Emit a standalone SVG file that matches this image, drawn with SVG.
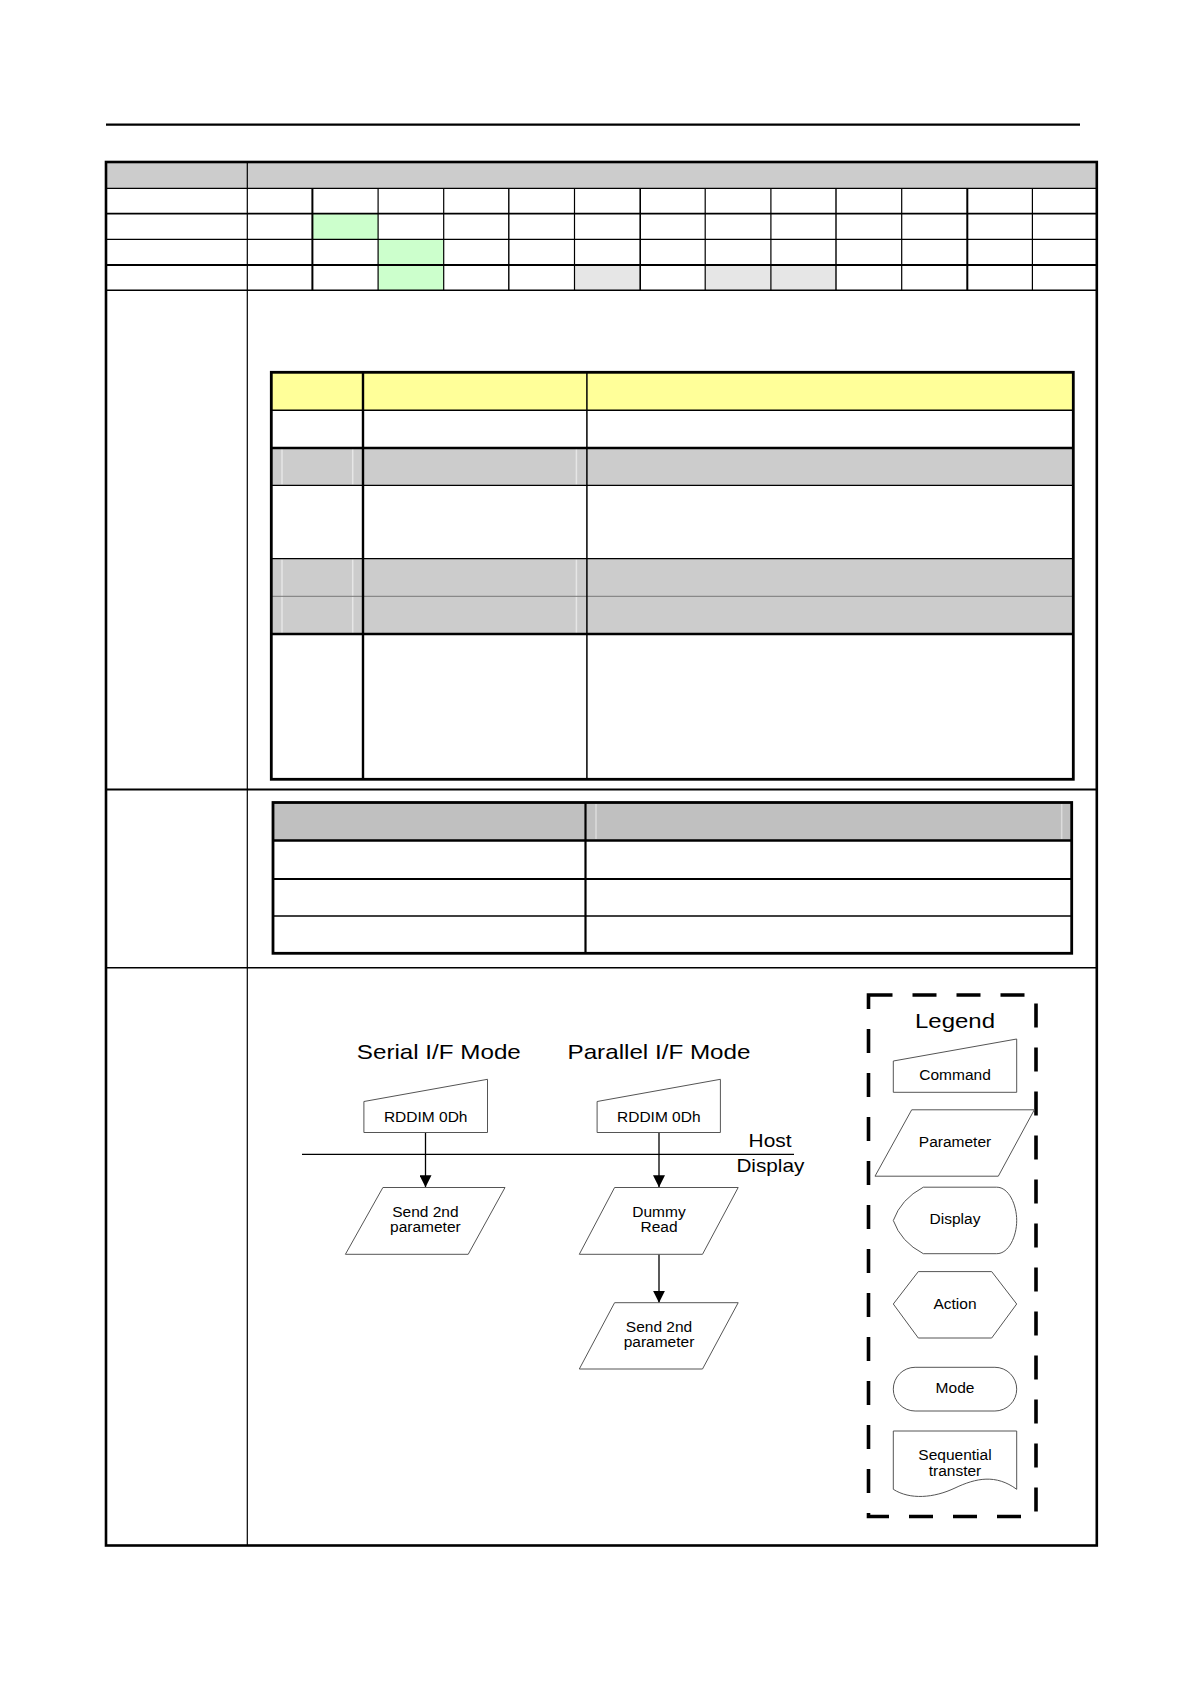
<svg xmlns="http://www.w3.org/2000/svg" width="1190" height="1684" viewBox="0 0 1190 1684">
<style>
  .bg{fill:#ffffff}
  .ln{stroke:#000;fill:none}
  .shape{fill:#ffffff;stroke:#555;stroke-width:1}
  .lbl{font-family:"Liberation Sans",Arial,sans-serif;font-size:15.5px;fill:#000;text-anchor:middle}
  .big{font-family:"Liberation Sans",Arial,sans-serif;fill:#000}
  .stripe{stroke:#e6e6e6;stroke-width:1.5}
</style>
<defs>
  <marker id="arr" markerWidth="13" markerHeight="12" refX="12" refY="6" orient="auto" markerUnits="userSpaceOnUse">
    <path d="M0,0 L12,6 L0,12 Z" fill="#000"/>
  </marker>
</defs>
<rect class="bg" x="0" y="0" width="1190" height="1684"/>

<!-- page header rule -->
<line class="ln" x1="106" y1="124.7" x2="1080" y2="124.7" stroke-width="2.2"/>

<!-- main table -->
<g id="main-table">
  <rect x="106" y="162" width="990.8" height="26.3" fill="#cccccc"/>
  <rect x="312.4" y="213.7" width="65.7" height="25.6" fill="#ccffcc"/>
  <rect x="378.1" y="239.3" width="65.6" height="25.7" fill="#ccffcc"/>
  <rect x="378.1" y="265" width="65.6" height="25.3" fill="#ccffcc"/>
  <rect x="574.5" y="265" width="65.7" height="25.3" fill="#e6e6e6"/>
  <rect x="705.2" y="265" width="65.7" height="25.3" fill="#e6e6e6"/>
  <rect x="770.9" y="265" width="65.1" height="25.3" fill="#e6e6e6"/>
  <g class="ln">
    <line x1="106" y1="188.3" x2="1096.8" y2="188.3" stroke-width="1.2"/>
    <line x1="106" y1="213.7" x2="1096.8" y2="213.7" stroke-width="1.8"/>
    <line x1="106" y1="239.3" x2="1096.8" y2="239.3" stroke-width="1.2"/>
    <line x1="106" y1="265" x2="1096.8" y2="265" stroke-width="1.8"/>
    <line x1="106" y1="290.3" x2="1096.8" y2="290.3" stroke-width="1.6"/>
    <line x1="106" y1="789.5" x2="1096.8" y2="789.5" stroke-width="2"/>
    <line x1="106" y1="967.7" x2="1096.8" y2="967.7" stroke-width="1.6"/>
    <line x1="247.3" y1="162" x2="247.3" y2="1545.5" stroke-width="1.2"/>
    <line x1="312.4" y1="188.3" x2="312.4" y2="290.3" stroke-width="2"/>
    <line x1="378.1" y1="188.3" x2="378.1" y2="290.3" stroke-width="1.2"/>
    <line x1="443.7" y1="188.3" x2="443.7" y2="290.3" stroke-width="1.2"/>
    <line x1="508.8" y1="188.3" x2="508.8" y2="290.3" stroke-width="1.4"/>
    <line x1="574.5" y1="188.3" x2="574.5" y2="290.3" stroke-width="1.2"/>
    <line x1="640.2" y1="188.3" x2="640.2" y2="290.3" stroke-width="1.6"/>
    <line x1="705.2" y1="188.3" x2="705.2" y2="290.3" stroke-width="1.2"/>
    <line x1="770.9" y1="188.3" x2="770.9" y2="290.3" stroke-width="1.2"/>
    <line x1="836" y1="188.3" x2="836" y2="290.3" stroke-width="1.4"/>
    <line x1="901.7" y1="188.3" x2="901.7" y2="290.3" stroke-width="1.2"/>
    <line x1="967.3" y1="188.3" x2="967.3" y2="290.3" stroke-width="2"/>
    <line x1="1032.4" y1="188.3" x2="1032.4" y2="290.3" stroke-width="1.2"/>
  </g>
  <rect class="ln" x="106" y="162" width="990.8" height="1383.5" stroke-width="2.6"/>
</g>

<!-- yellow-header table -->
<g id="desc-table">
  <rect x="271.3" y="372.3" width="802" height="38" fill="#ffff99"/>
  <rect x="271.3" y="448" width="802" height="37.3" fill="#cccccc"/>
  <rect x="271.3" y="558.7" width="802" height="75.3" fill="#cccccc"/>
  <g>
    <line class="stripe" x1="282" y1="449" x2="282" y2="484.5"/>
    <line class="stripe" x1="352.7" y1="449" x2="352.7" y2="484.5"/>
    <line class="stripe" x1="576.4" y1="449" x2="576.4" y2="484.5"/>
    <line class="stripe" x1="282" y1="559.5" x2="282" y2="633"/>
    <line class="stripe" x1="352.7" y1="559.5" x2="352.7" y2="633"/>
    <line class="stripe" x1="576.4" y1="559.5" x2="576.4" y2="633"/>
  </g>
  <g class="ln">
    <line x1="271.3" y1="410.3" x2="1073.3" y2="410.3" stroke-width="1.6"/>
    <line x1="271.3" y1="448" x2="1073.3" y2="448" stroke-width="2.4"/>
    <line x1="271.3" y1="485.3" x2="1073.3" y2="485.3" stroke-width="1.3"/>
    <line x1="271.3" y1="558.7" x2="1073.3" y2="558.7" stroke-width="1.3"/>
    <line x1="271.3" y1="596.3" x2="1073.3" y2="596.3" stroke-width="1" stroke="#777"/>
    <line x1="271.3" y1="634" x2="1073.3" y2="634" stroke-width="2.4"/>
    <line x1="363" y1="372.3" x2="363" y2="779.3" stroke-width="2.4"/>
    <line x1="586.9" y1="372.3" x2="586.9" y2="779.3" stroke-width="1.5"/>
  </g>
  <rect class="ln" x="271.3" y="372.3" width="802" height="407" stroke-width="2.8"/>
</g>

<!-- second table -->
<g id="value-table">
  <rect x="273" y="802.5" width="798.7" height="38" fill="#c0c0c0"/>
  <line x1="596" y1="804" x2="596" y2="839" stroke="#dcdcdc" stroke-width="1.5"/>
  <line x1="1061.7" y1="804" x2="1061.7" y2="839" stroke="#dcdcdc" stroke-width="1.5"/>
  <g class="ln">
    <line x1="273" y1="840.5" x2="1071.7" y2="840.5" stroke-width="2.4"/>
    <line x1="273" y1="879" x2="1071.7" y2="879" stroke-width="2.2"/>
    <line x1="273" y1="916" x2="1071.7" y2="916" stroke-width="1.5"/>
    <line x1="585.5" y1="802.5" x2="585.5" y2="953.3" stroke-width="2.2"/>
  </g>
  <rect class="ln" x="273" y="802.5" width="798.7" height="150.8" stroke-width="2.8"/>
</g>

<!-- flowchart -->
<text class="big" x="356.8" y="1059" font-size="21" textLength="164" lengthAdjust="spacingAndGlyphs">Serial I/F Mode</text>
<text class="big" x="567.5" y="1059" font-size="21" textLength="183" lengthAdjust="spacingAndGlyphs">Parallel I/F Mode</text>
<text class="big" x="748.6" y="1146.7" font-size="19" textLength="43" lengthAdjust="spacingAndGlyphs">Host</text>
<text class="big" x="736.4" y="1171.7" font-size="19" textLength="68" lengthAdjust="spacingAndGlyphs">Display</text>

<g id="connectors">
  <line class="ln" x1="302" y1="1154.3" x2="794" y2="1154.3" stroke-width="1.3"/>
  <line class="ln" x1="425.5" y1="1132.5" x2="425.5" y2="1187.3" stroke-width="1.3" marker-end="url(#arr)"/>
  <line class="ln" x1="659" y1="1132.5" x2="659" y2="1187.3" stroke-width="1.3" marker-end="url(#arr)"/>
  <line class="ln" x1="659" y1="1254.3" x2="659" y2="1302.7" stroke-width="1.3" marker-end="url(#arr)"/>
</g>

<g id="serial-cmd">
  <polygon class="shape" points="363.9,1101.5 487.5,1079.3 487.5,1132.5 363.9,1132.5"/>
  <text class="lbl" x="425.7" y="1121.5">RDDIM 0Dh</text>
</g>
<g id="parallel-cmd">
  <polygon class="shape" points="597.1,1101.5 720.4,1079.3 720.4,1132.5 597.1,1132.5"/>
  <text class="lbl" x="658.8" y="1121.5">RDDIM 0Dh</text>
</g>
<g id="serial-param">
  <polygon class="shape" points="382.9,1187.5 505,1187.5 468.2,1254.3 345.4,1254.3"/>
  <text class="lbl" x="425.4" y="1216.7">Send 2nd</text>
  <text class="lbl" x="425.4" y="1232.3">parameter</text>
</g>
<g id="dummy-read">
  <polygon class="shape" points="614.6,1187.5 738.2,1187.5 702.5,1254.3 579.3,1254.3"/>
  <text class="lbl" x="659" y="1216.7">Dummy</text>
  <text class="lbl" x="659" y="1232.3">Read</text>
</g>
<g id="parallel-param">
  <polygon class="shape" points="614.6,1302.7 738.2,1302.7 702.5,1369 579.3,1369"/>
  <text class="lbl" x="659" y="1331.7">Send 2nd</text>
  <text class="lbl" x="659" y="1347.3">parameter</text>
</g>

<!-- legend -->
<g id="legend">
  <rect x="868.5" y="995" width="167.5" height="521.5" fill="none" stroke="#000" stroke-width="3.6" stroke-dasharray="24 20"/>
  <text class="big" x="955" y="1028.3" font-size="20" text-anchor="middle" textLength="80" lengthAdjust="spacingAndGlyphs">Legend</text>
  <g id="legend-command">
    <polygon class="shape" points="893.3,1061 1016.7,1039 1016.7,1092.3 893.3,1092.3"/>
    <text class="lbl" x="955" y="1080">Command</text>
  </g>
  <g id="legend-parameter">
    <polygon class="shape" points="911.7,1109.8 1034.3,1109.8 998.3,1176.2 875,1176.2"/>
    <text class="lbl" x="955" y="1147">Parameter</text>
  </g>
  <g id="legend-display">
    <path class="shape" d="M923.3,1187.2 L996.7,1187.2 C1009,1187.2 1016.7,1205 1016.7,1220.5 C1016.7,1236 1009,1253.7 996.7,1253.7 L923.3,1253.7 Q901,1242 893.3,1220.5 Q901,1199 923.3,1187.2 Z"/>
    <text class="lbl" x="955" y="1224">Display</text>
  </g>
  <g id="legend-action">
    <polygon class="shape" points="893.3,1304 918.3,1271.6 991.7,1271.6 1016.7,1304 991.7,1338 918.3,1338"/>
    <text class="lbl" x="955" y="1308.5">Action</text>
  </g>
  <g id="legend-mode">
    <rect class="shape" x="893.3" y="1367.3" width="123.4" height="43.7" rx="21.8" ry="21.8"/>
    <text class="lbl" x="955" y="1393">Mode</text>
  </g>
  <g id="legend-sequential">
    <path class="shape" d="M893.3,1431 L1016.7,1431 L1016.7,1489.3 C996,1474 976,1478 955,1488 C934,1498 910,1500 893.3,1489.3 Z"/>
    <text class="lbl" x="955" y="1460">Sequential</text>
    <text class="lbl" x="955" y="1476">transter</text>
  </g>
</g>
</svg>
